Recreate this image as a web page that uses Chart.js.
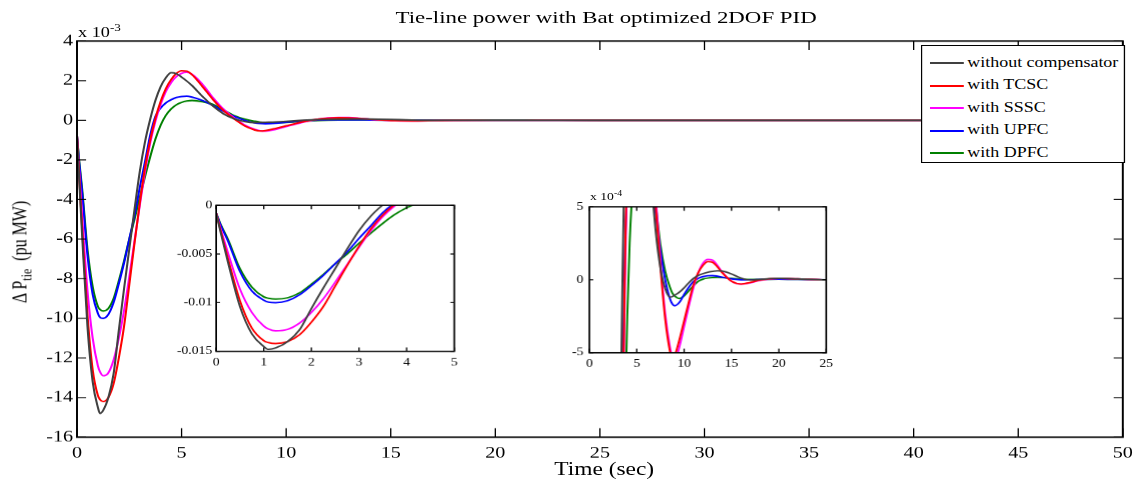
<!DOCTYPE html>
<html>
<head>
<meta charset="utf-8">
<script src="https://cdn.jsdelivr.net/npm/chart.js@4.4.0/dist/chart.umd.min.js"></script>
<style>
html,body{margin:0;padding:0;background:#fff;overflow:hidden;}
#wrap{position:relative;width:878px;height:483px;transform:scaleX(1.300683);transform-origin:0 0;
  font-family:"Liberation Serif","Times New Roman",serif;color:#000;}
canvas{position:absolute;}
#main{left:0;top:0;}
#in1{left:126px;top:196px;background:#fff;}
#in2{left:430px;top:196px;background:#fff;}
.txt{position:absolute;white-space:nowrap;line-height:1;}
#title{left:466px;top:9px;font-size:17.6px;transform:translateX(-50%);}
#xlab{left:464.5px;top:460px;font-size:18px;transform:translateX(-50%);}
#ylab{left:17px;top:252px;font-size:16px;transform:translate(-50%,-50%) rotate(-90deg);}
#ylab sub{font-size:12px;vertical-align:-4px;}
#mexp{left:60px;top:23px;font-size:14px;}
#mexp sup,#iexp sup{font-size:0.72em;vertical-align:0.55em;}
#iexp{left:453.6px;top:189.5px;font-size:10.5px;}
#legend{position:absolute;left:708.2px;top:45px;width:155px;height:116px;border:1px solid #000;background:#fff;}
.lrow{position:absolute;left:0;height:0;}
.lline{position:absolute;left:6px;top:-1px;width:25.5px;height:2px;}
.ltext{position:absolute;left:34.5px;top:-8.2px;font-size:13.8px;line-height:16px;white-space:nowrap;}
</style>
</head>
<body>
<div id="wrap">
  <canvas id="main" width="878" height="483"></canvas>
  <canvas id="in1" width="232" height="178"></canvas>
  <canvas id="in2" width="215" height="180"></canvas>
  <div id="title" class="txt">Tie-line power with Bat optimized 2DOF PID</div>
  <div id="xlab" class="txt">Time (sec)</div>
  <div id="ylab" class="txt">&Delta; P<sub>tie</sub>&nbsp; (pu MW)</div>
  <div id="mexp" class="txt">x 10<sup>-3</sup></div>
  <div id="iexp" class="txt">x 10<sup>-4</sup></div>
  <div id="legend"></div>
</div>
<script>
// time samples (s)
const T = [0,0.1,0.25,0.5,0.75,1,1.1,1.25,1.5,1.75,2,2.25,2.5,2.75,3,3.25,3.5,3.75,4,4.25,4.5,4.75,5,5.25,5.5,6,6.5,7,7.5,8,8.5,8.75,9,9.5,10,10.5,11,11.5,12,12.5,13,13.5,14,15,16,17,18,20,22,25,30,40,50];

// Delta P_tie values in units of 1e-3 pu MW
const noComp = [-0.8,-2.9,-5.9,-10.4,-13.2,-14.5,-14.8,-14.65,-14.0,-12.8,-10.6,-8.5,-6.5,-4.5,-2.6,-1.1,0.05,1.0,1.7,2.15,2.4,2.35,2.18,1.98,1.75,1.2,0.72,0.33,0.08,-0.06,-0.119,-0.115,-0.105,-0.085,-0.055,-0.02,0.01,0.03,0.042,0.052,0.058,0.062,0.06,0.04,0.012,-0.002,0.003,0.01,0.006,0,0,0,0];
const tcsc = [-0.8,-2.7,-5.5,-9.8,-12.6,-13.9,-14.1,-14.2,-14.0,-13.3,-12.0,-10.4,-8.3,-6.2,-4.2,-2.4,-1.0,0.1,0.95,1.6,2.05,2.36,2.5,2.48,2.3,1.7,1.05,0.5,0.08,-0.27,-0.49,-0.54,-0.52,-0.41,-0.28,-0.15,-0.03,0.05,0.1,0.125,0.12,0.09,0.05,-0.01,-0.029,-0.018,-0.002,0.01,0.006,0,0,0,0];
const sssc = [-0.8,-2.5,-4.9,-8.6,-11.0,-12.4,-12.7,-12.9,-12.75,-12.1,-11.0,-9.6,-7.9,-6.1,-4.3,-2.6,-1.15,-0.05,0.8,1.45,1.9,2.2,2.37,2.42,2.32,1.82,1.15,0.57,0.13,-0.23,-0.46,-0.53,-0.55,-0.46,-0.32,-0.18,-0.05,0.05,0.115,0.14,0.135,0.1,0.055,-0.01,-0.03,-0.02,-0.004,0.01,0.006,0,0,0,0];
const upfc = [-0.8,-2.1,-3.7,-6.8,-8.8,-9.75,-9.95,-10.0,-9.8,-9.2,-8.25,-7.2,-6.0,-4.8,-3.4,-2.1,-0.75,0.2,0.62,0.88,1.04,1.15,1.2,1.22,1.17,1.0,0.75,0.45,0.2,0.0,-0.13,-0.165,-0.178,-0.155,-0.1,-0.05,-0.01,0.01,0.022,0.028,0.029,0.025,0.018,0.006,0.0,0.0,0.003,0.005,0.003,0,0,0,0];
const dpfc = [-0.8,-2.0,-3.5,-6.5,-8.4,-9.4,-9.55,-9.63,-9.5,-9.0,-8.1,-7.1,-6.0,-5.0,-3.9,-2.85,-1.85,-0.95,-0.25,0.25,0.57,0.78,0.9,0.97,1.0,0.94,0.8,0.52,0.24,0.06,-0.05,-0.09,-0.11,-0.128,-0.11,-0.075,-0.04,-0.01,0.005,0.012,0.015,0.016,0.015,0.01,0.004,0.002,0.003,0.005,0.003,0,0,0,0];

const seriesNames = ['without compensator','with TCSC','with SSSC','with UPFC','with DPFC'];
const seriesColors = ['#404040','#ff0000','#ff00ff','#0000ff','#008000'];
const seriesValues = [noComp, tcsc, sssc, upfc, dpfc];

// axis ranges / tick steps
const mainX = [0, 50, 5], mainY = [-16, 4, 2];
const in1X = [0, 5, 1], in1Y = [-15, 0, 5];
const in2X = [0, 25, 5], in2Y = [-0.5, 0.5, 0.5];

const S = 1142 / 878;
const serif = '"Liberation Serif","Times New Roman",serif';

function makeDatasets(lw) {
  return seriesValues.map((vals, i) => ({
    label: seriesNames[i],
    data: T.map((t, j) => ({x: t, y: vals[j]})),
    borderColor: seriesColors[i],
    borderWidth: lw,
    pointRadius: 0,
    fill: false,
    cubicInterpolationMode: 'monotone'
  }));
}

const framePlugin = {
  id: 'frame',
  afterDraw(chart, args, o) {
    const {ctx, chartArea: a} = chart;
    const xs = chart.scales.x, ys = chart.scales.y;
    ctx.save();
    ctx.strokeStyle = '#000';
    ctx.lineWidth = o.tickWidth;
    ctx.beginPath();
    xs.ticks.forEach((t, i) => {
      const p = xs.getPixelForTick(i);
      ctx.moveTo(p, a.bottom); ctx.lineTo(p, a.bottom - o.tickLenX);
      ctx.moveTo(p, a.top); ctx.lineTo(p, a.top + o.tickLenX);
    });
    ys.ticks.forEach((t, i) => {
      const p = ys.getPixelForTick(i);
      ctx.moveTo(a.left, p); ctx.lineTo(a.left + o.tickLenY, p);
      ctx.moveTo(a.right, p); ctx.lineTo(a.right - o.tickLenY, p);
    });
    ctx.stroke();
    ctx.lineWidth = o.lineWidth;
    ctx.strokeRect(a.left, a.top, a.right - a.left, a.bottom - a.top);
    ctx.restore();
  }
};

function makeChart(id, cfg) {
  return new Chart(document.getElementById(id), {
    type: 'line',
    data: {datasets: makeDatasets(cfg.lw)},
    plugins: [framePlugin],
    options: {
      responsive: false,
      maintainAspectRatio: false,
      devicePixelRatio: S,
      animation: false,
      layout: {padding: cfg.pad},
      plugins: {
        legend: {display: false},
        title: {display: false},
        tooltip: {enabled: false},
        frame: cfg.frame
      },
      scales: {
        x: {
          type: 'linear', min: cfg.x[0], max: cfg.x[1],
          grid: {display: false, drawTicks: false},
          border: {display: false},
          ticks: {stepSize: cfg.x[2], color: '#000', padding: cfg.xPad, maxRotation: 0,
                  font: {family: serif, size: cfg.fs}, callback: cfg.xFmt},
          afterFit(s) { s.height = cfg.xH; }
        },
        y: {
          type: 'linear', min: cfg.y[0], max: cfg.y[1],
          grid: {display: false, drawTicks: false},
          border: {display: false},
          ticks: {stepSize: cfg.y[2], color: '#000', padding: cfg.yPad,
                  font: {family: serif, size: cfg.fs}, callback: cfg.yFmt},
          afterFit(s) { s.width = cfg.yW; }
        }
      }
    }
  });
}

makeChart('main', {
  lw: 1.6, x: mainX, y: mainY, fs: 15.5,
  pad: {left: 0, top: 41, right: 878 - 1131 / S, bottom: 0},
  xH: 46, yW: 77 / S, xPad: 7, yPad: 3,
  xFmt: v => String(v), yFmt: v => String(v),
  frame: {tickLenX: 9, tickLenY: 7, tickWidth: 1, lineWidth: 1.5}
});

makeChart('in1', {
  lw: 1.5, x: in1X, y: in1Y, fs: 10.5,
  pad: {left: 0, top: 7.3, right: 9.3, bottom: 0},
  xH: 23, yW: 40.1, xPad: 5, yPad: 3,
  xFmt: v => String(v), yFmt: v => String(v / 1000),
  frame: {tickLenX: 4, tickLenY: 3, tickWidth: 1, lineWidth: 1.3}
});

makeChart('in2', {
  lw: 1.5, x: in2X, y: in2Y, fs: 10.5,
  pad: {left: 0, top: 8, right: 9.3, bottom: 0},
  xH: 23.3, yW: 23.1, xPad: 5, yPad: 4.5,
  xFmt: v => String(v), yFmt: v => String(Math.round(v * 10)),
  frame: {tickLenX: 4, tickLenY: 3, tickWidth: 1, lineWidth: 1.3}
});

// legend
const leg = document.getElementById('legend');
seriesNames.forEach((n, i) => {
  const row = document.createElement('div');
  row.className = 'lrow';
  row.style.top = (17 + i * 22.5) + 'px';
  const ln = document.createElement('div');
  ln.className = 'lline';
  ln.style.background = seriesColors[i];
  const tx = document.createElement('span');
  tx.className = 'ltext';
  tx.textContent = n;
  row.appendChild(ln); row.appendChild(tx);
  leg.appendChild(row);
});
</script>
</body>
</html>
